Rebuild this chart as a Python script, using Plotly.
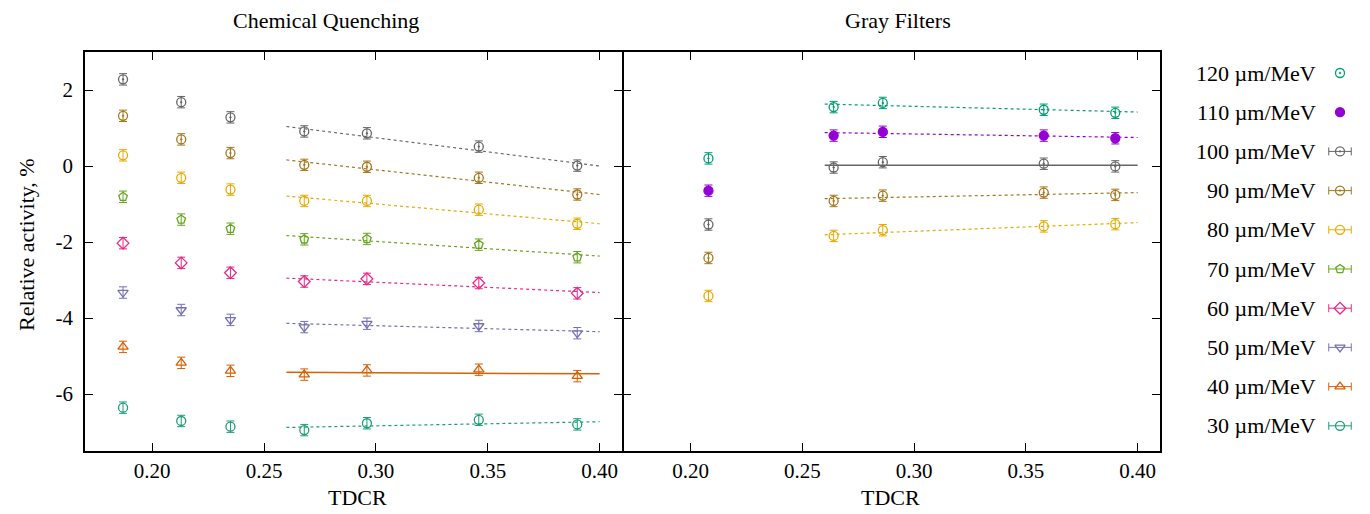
import plotly.graph_objects as go

# ---------------- data ----------------
series = [30, 40, 50, 60, 70, 80, 90, 100, 110, 120]  # µm/MeV

# Chemical Quenching panel
cq_x = [0.187, 0.213, 0.235, 0.268, 0.296, 0.346, 0.390]
cq_series = [30, 40, 50, 60, 70, 80, 90, 100]
cq_values = [
    [-6.36, -6.71, -6.86, -6.95, -6.77, -6.68, -6.80],   # 30
    [-4.76, -5.18, -5.39, -5.49, -5.38, -5.36, -5.53],   # 40
    [-3.33, -3.79, -4.05, -4.24, -4.15, -4.21, -4.40],   # 50
    [-2.03, -2.55, -2.81, -3.04, -2.97, -3.08, -3.35],   # 60
    [-0.81, -1.41, -1.65, -1.93, -1.92, -2.07, -2.40],   # 70
    [0.28, -0.31, -0.62, -0.92, -0.92, -1.15, -1.52],    # 80
    [1.32, 0.70, 0.34, 0.03, -0.02, -0.31, -0.75],       # 90
    [2.28, 1.68, 1.28, 0.91, 0.86, 0.51, 0.01],          # 100
]
cq_fit_x = [0.26, 0.40]
cq_fit_y = [
    [-6.88, -6.73],
    [-5.43, -5.47],
    [-4.14, -4.36],
    [-2.95, -3.33],
    [-1.83, -2.37],
    [-0.79, -1.52],
    [0.16, -0.75],
    [1.04, 0.00],
]

# Gray Filters panel
gf_x = [0.208, 0.264, 0.286, 0.358, 0.390]
gf_series = [80, 90, 100, 110, 120]
gf_values = [
    [-3.42, -1.84, -1.69, -1.59, -1.53],   # 80
    [-2.42, -0.92, -0.78, -0.70, -0.76],   # 90
    [-1.54, -0.04, 0.10, 0.06, -0.01],     # 100
    [-0.65, 0.80, 0.90, 0.80, 0.73],       # 110
    [0.20, 1.55, 1.66, 1.48, 1.40],        # 120
]
gf_fit_x = [0.26, 0.40]
gf_fit_y = [
    [-1.81, -1.49],
    [-0.86, -0.70],
    [0.02, 0.02],
    [0.88, 0.75],
    [1.63, 1.42],
]

err = 0.15  # uncertainty on each point, %

y_ticks = [2, 0, -2, -4, -6]
y_tick_text = ["2", "0", "-2", "-4", "-6"]

# ---------------- style ----------------
colors = {30: "#1b9e77", 40: "#d95f02", 50: "#7570b3", 60: "#e7298a", 70: "#66a61e",
          80: "#e6ab02", 90: "#a6761d", 100: "#666666", 110: "#9400d3", 120: "#009e73"}
symbols = {30: "circle-open", 40: "triangle-up-open", 50: "triangle-down-open",
           60: "diamond-open", 70: "pentagon-open", 80: "circle-open",
           90: "circle-open-dot", 100: "circle-open-dot", 110: "circle",
           120: "circle-open-dot"}
solid_fit = {("cq", 40), ("gf", 100)}
with_bars_in_key = {30, 40, 50, 60, 70, 80, 90, 100}

FONT = "Liberation Serif"
W, H = 1370, 514
L, R, T, B = 85, 5, 52, 63
PW = W - L - R
PH = H - T - B


def px_x(p):
    return (p - L) / PW


def px_y(p):
    return (H - B - p) / PH


fig = go.Figure()


def add_panel(xs, names, vals, fitx, fity, xa, ya, tag):
    for s, v, fy in zip(names, vals, fity):
        c = colors[s]
        solid = (tag, s) in solid_fit
        fig.add_trace(go.Scatter(
            x=fitx, y=fy, mode="lines", xaxis=xa, yaxis=ya, showlegend=False,
            line=dict(color=c, width=1.5 if solid else 1.2,
                      dash="solid" if solid else "3px,3px"),
            hoverinfo="skip"))
        fig.add_trace(go.Scatter(
            x=xs, y=v, mode="markers", xaxis=xa, yaxis=ya, showlegend=False,
            name=f"{s} µm/MeV",
            marker=dict(symbol=symbols[s], size=9, color=c,
                        line=dict(color=c, width=1.3)),
            error_y=dict(type="constant", value=err, color=c, thickness=1, width=4)))


add_panel(cq_x, cq_series, cq_values, cq_fit_x, cq_fit_y, "x", "y", "cq")
add_panel(gf_x, gf_series, gf_values, gf_fit_x, gf_fit_y, "x2", "y2", "gf")

# ---------------- key (legend drawn on a hidden axis) ----------------
for row, s in enumerate(series):
    c = colors[s]
    fig.add_trace(go.Scatter(
        x=[0], y=[row], mode="markers", xaxis="x3", yaxis="y3", showlegend=False,
        marker=dict(symbol=symbols[s], size=9, color=c, line=dict(color=c, width=1.3)),
        error_x=dict(type="constant", value=0.75, color=c, thickness=1, width=4,
                     visible=s in with_bars_in_key),
        hoverinfo="skip"))
    fig.add_annotation(x=px_x(1318), xref="paper", y=row, yref="y3",
                       text=f"{s} µm/MeV", showarrow=False, xanchor="right",
                       yanchor="middle", font=dict(family=FONT, size=22, color="black"))

axis_common = dict(showline=True, linecolor="black", linewidth=1.5, mirror="ticks",
                   ticks="inside", ticklen=8, tickwidth=1, tickcolor="black",
                   showgrid=False, zeroline=False,
                   tickfont=dict(family=FONT, size=21, color="black"))
xcommon = dict(axis_common, range=[0.17, 0.41], tick0=0.2, dtick=0.05, tickformat=".2f")
ycommon = dict(axis_common, range=[-7.5, 3], tickvals=y_ticks)

d1 = [0, px_x(622)]
d2 = [px_x(623.5), px_x(1160)]

fig.update_layout(
    width=W, height=H,
    margin=dict(l=L, r=R, t=T, b=B),
    paper_bgcolor="white", plot_bgcolor="white",
    font=dict(family=FONT, size=21, color="black"),
    xaxis=dict(xcommon, domain=d1, anchor="y"),
    yaxis=dict(ycommon, domain=[0, 1], anchor="x", ticktext=y_tick_text,
               ticklabelstandoff=6),
    xaxis2=dict(xcommon, domain=d2, anchor="y2"),
    yaxis2=dict(ycommon, domain=[0, 1], anchor="x2", showticklabels=False),
    xaxis3=dict(domain=[px_x(1325), px_x(1355)], range=[-1, 1], visible=False,
                anchor="y3"),
    yaxis3=dict(domain=[0, 1], range=[-0.643, 9.536], visible=False, anchor="x3"),
    showlegend=False,
)

# titles and axis labels
label_font = dict(family=FONT, size=22, color="black")
for text, xp, yp, ang in [("Chemical Quenching", 326, 20, 0),
                          ("Gray Filters", 898, 20, 0),
                          ("TDCR", 357, 497, 0),
                          ("TDCR", 890, 497, 0),
                          ("Relative activity, %", 26, 245, -90)]:
    fig.add_annotation(x=px_x(xp), y=px_y(yp), xref="paper", yref="paper",
                       text=text, showarrow=False, textangle=ang,
                       xanchor="center", yanchor="middle", font=label_font)

fig.write_html("out.html")
